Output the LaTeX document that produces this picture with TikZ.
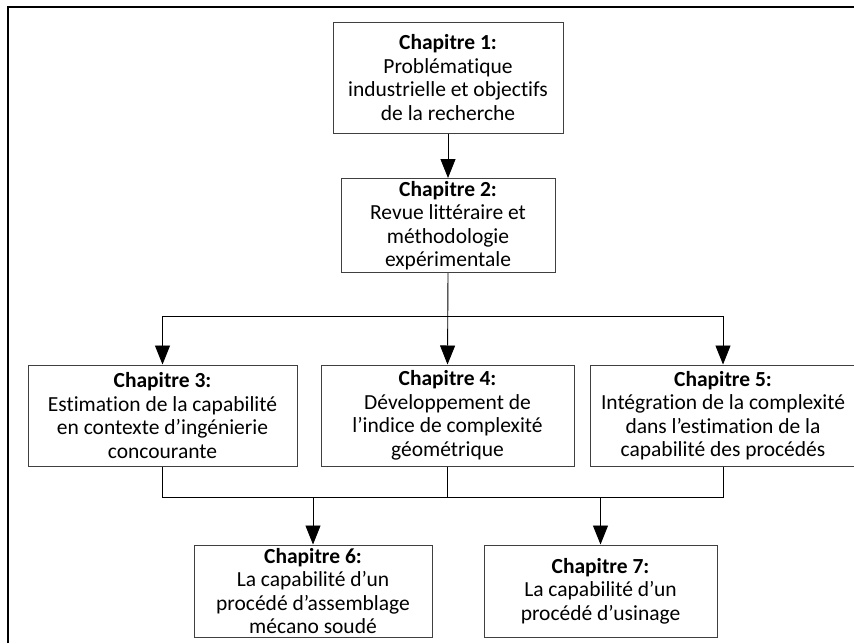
\documentclass[tikz,border=0pt]{standalone}
\usepackage{fontspec}
\setmainfont{Carlito}[Ligatures=NoCommon]
\usetikzlibrary{arrows.meta}
\definecolor{boxline}{HTML}{404040}
\tikzset{
  chapbox/.style={draw=boxline, line width=1pt, rectangle, align=center,
    inner sep=0pt, font=\fontsize{21.5}{23.5}\selectfont},
  link/.style={draw=black, line width=0.9pt},
  arr/.style={link, -{Triangle[width=15pt,length=19pt]}},
  frame/.style={draw=black, line width=2.2pt}
}
\newcommand{\chaptitle}[1]{\textbf{#1}}
\begin{document}
\begin{tikzpicture}[x=1pt,y=-1pt]
  \useasboundingbox (0,0) rectangle (854,643);
  % outer frame (top and left edges)
  \draw[frame] (8,643) -- (8,7) -- (854,7);

  % chapter boxes
  \node[chapbox, minimum width=230pt, minimum height=111pt] (c1) at (448,77.5)
    {\chaptitle{Chapitre 1:}\\Problématique\\industrielle et objectifs\\de la recherche};
  \node[chapbox, minimum width=214pt, minimum height=94pt] (c2) at (448,225.5)
    {\chaptitle{Chapitre 2:}\\Revue littéraire et\\méthodologie\\expérimentale};
  \node[chapbox, minimum width=269pt, minimum height=101pt] (c3) at (162.5,415.5)
    {\chaptitle{Chapitre 3:}\\Estimation de la capabilité\\en contexte d’ingénierie\\concourante};
  \node[chapbox, minimum width=253pt, minimum height=101pt] (c4) at (447.5,415.5)
    {\chaptitle{Chapitre 4:}\\Développement de\\l’indice de complexité\\géométrique};
  \node[chapbox, minimum width=266pt, minimum height=101pt] (c5) at (723,415.5)
    {\chaptitle{Chapitre 5:}\\Intégration de la complexité\\dans l’estimation de la\\capabilité des procédés};
  \node[chapbox, minimum width=238pt, minimum height=92pt] (c6) at (313,591)
    {\chaptitle{Chapitre 6:}\\La capabilité d’un\\procédé d’assemblage\\mécano soudé};
  \node[chapbox, minimum width=233pt, minimum height=92pt] (c7) at (600.5,591)
    {\chaptitle{Chapitre 7:}\\La capabilité d’un\\procédé d’usinage};

  % connectors
  \coordinate (split) at (448,316);
  \coordinate (bus) at (448,497);
  \draw[arr] (c1) -- (c2);
  \draw[arr] (c2.south) -- (c4.north);
  \draw[arr] (c3.north |- split) -- (c3.north);
  \draw[arr] (c5.north |- split) -- (c5.north);
  \draw[link] (c3.north |- split) -- (c5.north |- split);
  \draw[link] (c3.south) -- (c3.south |- bus) -- (c5.south |- bus) -- (c5.south);
  \draw[link] (c4.south) -- (c4.south |- bus);
  \draw[arr] (c6.north |- bus) -- (c6.north);
  \draw[arr] (c7.north |- bus) -- (c7.north);
\end{tikzpicture}
\end{document}
